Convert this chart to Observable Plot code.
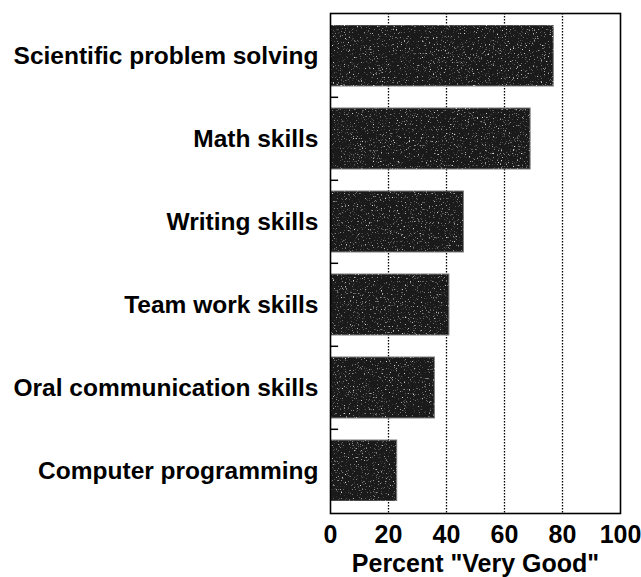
<!DOCTYPE html>
<html>
<head>
<meta charset="utf-8">
<script src="https://cdn.jsdelivr.net/npm/d3@7"></script>
<script src="https://cdn.jsdelivr.net/npm/@observablehq/plot@0.6"></script>
<style>
  html, body { margin: 0; padding: 0; background: #fff; }
  #chart { width: 641px; height: 577px; }
</style>
</head>
<body>
<div id="chart"></div>
<script>
const skills = [
  "Scientific problem solving",
  "Math skills",
  "Writing skills",
  "Team work skills",
  "Oral communication skills",
  "Computer programming"
];
const percents = [77, 69, 46, 41, 36, 23];
const xTicks = [0, 20, 40, 60, 80, 100];
const gridValues = [20, 40, 60, 80];
const xLabel = 'Percent "Very Good"';

const data = skills.map((s, i) => ({skill: s, value: percents[i]}));

const chart = Plot.plot({
  width: 641,
  height: 577,
  marginLeft: 330,
  marginRight: 21,
  marginTop: 13,
  marginBottom: 64,
  style: {background: "#fff", color: "#000", fontFamily: "'Liberation Sans', Arial, sans-serif"},
  x: {domain: [0, 100], ticks: xTicks},
  y: {domain: skills, paddingInner: 0.26, paddingOuter: 0.13},
  marks: [
    Plot.ruleX(gridValues, {stroke: "#000", strokeWidth: 1.3, strokeDasharray: "1.5,1.5"}),
    Plot.barX(data, {x: "value", y: "skill", fill: "#1a1a1a", stroke: "#7a7a7a", strokeWidth: 1}),
    Plot.ruleY(skills.slice(1), {y: d => d, x1: 0, x2: 2.8, dy: -41.7, stroke: "#000", strokeWidth: 1.5}),
    Plot.frame({stroke: "#000", strokeWidth: 1.6}),
    Plot.axisY({
      tickSize: 0, tickPadding: 12, label: null,
      fontSize: 24.5, fontWeight: "bold"
    }),
    Plot.axisX({
      ticks: xTicks, tickSize: 0, tickPadding: 12,
      fontSize: 25, fontWeight: "bold",
      fontFamily: "'Liberation Sans Narrow', 'Liberation Sans', Arial, sans-serif",
      label: xLabel, labelAnchor: "center", labelArrow: "none", labelOffset: 58
    })
  ]
});

// style the axis label
chart.querySelectorAll("text").forEach(t => {
  if (t.textContent === xLabel) {
    t.setAttribute("font-size", "25");
    t.setAttribute("font-weight", "bold");
    t.setAttribute("font-family", "'Liberation Sans', Arial, sans-serif");
  }
});

// speckled texture on bars (decorative filter)
const ns = "http://www.w3.org/2000/svg";
const defs = document.createElementNS(ns, "defs");
defs.innerHTML = `
<filter id="speckle" x="0" y="0" width="1" height="1" color-interpolation-filters="sRGB">
  <feTurbulence type="fractalNoise" baseFrequency="0.75" numOctaves="2" seed="7" result="noise"/>
  <feColorMatrix in="noise" type="matrix"
    values="0 0 0 0 0.85  0 0 0 0 0.85  0 0 0 0 0.85  5 0 0 0 -3.1" result="specks"/>
  <feComposite in="specks" in2="SourceGraphic" operator="in" result="sp"/>
  <feMerge><feMergeNode in="SourceGraphic"/><feMergeNode in="sp"/></feMerge>
</filter>`;
chart.insertBefore(defs, chart.firstChild);
const barG = chart.querySelector("g[aria-label='bar']");
if (barG) barG.setAttribute("filter", "url(#speckle)");

document.getElementById("chart").appendChild(chart);
</script>
</body>
</html>
